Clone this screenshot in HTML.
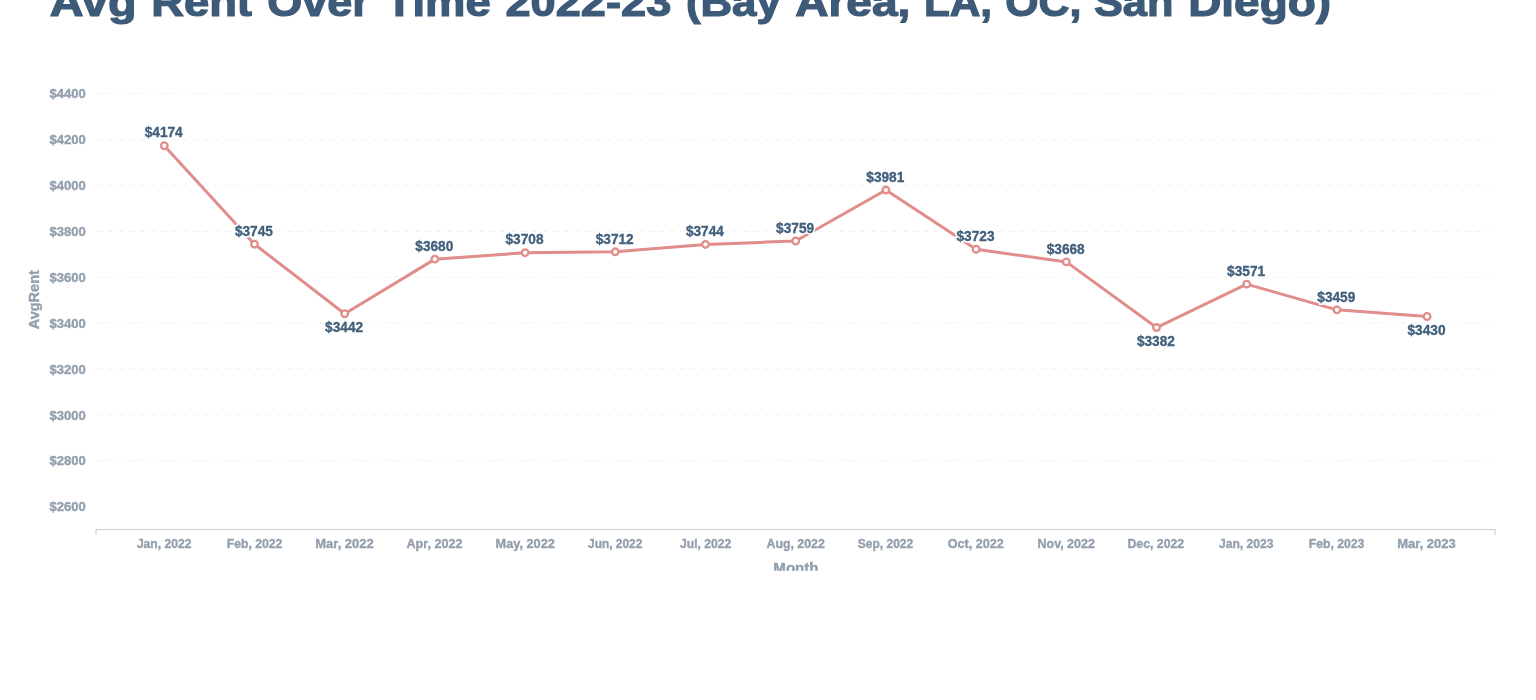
<!DOCTYPE html><html><head><meta charset="utf-8"><style>html,body{margin:0;padding:0;background:#fff;width:1536px;height:700px;overflow:hidden}svg{display:block;filter:blur(0.35px)}text{font-family:"Liberation Sans",sans-serif;font-weight:bold}</style></head><body>
<svg width="1536" height="700" viewBox="0 0 1536 700">
<text x="49.80" y="16.3" font-size="40" fill="#3d5b79" stroke="#3d5b79" stroke-width="1.2" textLength="86.68" lengthAdjust="spacingAndGlyphs">Avg</text>
<text x="151.17" y="16.3" font-size="40" fill="#3d5b79" stroke="#3d5b79" stroke-width="1.2" textLength="100.78" lengthAdjust="spacingAndGlyphs">Rent</text>
<text x="267.30" y="16.3" font-size="40" fill="#3d5b79" stroke="#3d5b79" stroke-width="1.2" textLength="102.47" lengthAdjust="spacingAndGlyphs">Over</text>
<text x="385.63" y="16.3" font-size="40" fill="#3d5b79" stroke="#3d5b79" stroke-width="1.2" textLength="105.06" lengthAdjust="spacingAndGlyphs">Time</text>
<text x="505.50" y="16.3" font-size="40" fill="#3d5b79" stroke="#3d5b79" stroke-width="1.2" textLength="165.77" lengthAdjust="spacingAndGlyphs">2022-23</text>
<text x="685.91" y="16.3" font-size="40" fill="#3d5b79" stroke="#3d5b79" stroke-width="1.2" textLength="94.88" lengthAdjust="spacingAndGlyphs">(Bay</text>
<text x="795.20" y="16.3" font-size="40" fill="#3d5b79" stroke="#3d5b79" stroke-width="1.2" textLength="115.12" lengthAdjust="spacingAndGlyphs">Area,</text>
<text x="923.94" y="16.3" font-size="40" fill="#3d5b79" stroke="#3d5b79" stroke-width="1.2" textLength="68.18" lengthAdjust="spacingAndGlyphs">LA,</text>
<text x="1005.20" y="16.3" font-size="40" fill="#3d5b79" stroke="#3d5b79" stroke-width="1.2" textLength="76.10" lengthAdjust="spacingAndGlyphs">OC,</text>
<text x="1094.00" y="16.3" font-size="40" fill="#3d5b79" stroke="#3d5b79" stroke-width="1.2" textLength="79.39" lengthAdjust="spacingAndGlyphs">San</text>
<text x="1188.15" y="16.3" font-size="40" fill="#3d5b79" stroke="#3d5b79" stroke-width="1.2" textLength="142.95" lengthAdjust="spacingAndGlyphs">Diego)</text>
<text x="49.40" y="511.30" font-size="13.5" fill="#939fad" stroke="#939fad" stroke-width="0.4" textLength="36.26" lengthAdjust="spacingAndGlyphs">$2600</text>
<line x1="97" y1="460.80" x2="1490" y2="460.80" stroke="#f0f1f4" stroke-width="1" stroke-dasharray="5.3,5.3"/>
<text x="49.40" y="465.40" font-size="13.5" fill="#939fad" stroke="#939fad" stroke-width="0.4" textLength="36.26" lengthAdjust="spacingAndGlyphs">$2800</text>
<line x1="97" y1="414.90" x2="1490" y2="414.90" stroke="#f0f1f4" stroke-width="1" stroke-dasharray="5.3,5.3"/>
<text x="49.40" y="419.50" font-size="13.5" fill="#939fad" stroke="#939fad" stroke-width="0.4" textLength="36.26" lengthAdjust="spacingAndGlyphs">$3000</text>
<line x1="97" y1="369.00" x2="1490" y2="369.00" stroke="#f0f1f4" stroke-width="1" stroke-dasharray="5.3,5.3"/>
<text x="49.40" y="373.60" font-size="13.5" fill="#939fad" stroke="#939fad" stroke-width="0.4" textLength="36.26" lengthAdjust="spacingAndGlyphs">$3200</text>
<line x1="97" y1="323.10" x2="1490" y2="323.10" stroke="#f0f1f4" stroke-width="1" stroke-dasharray="5.3,5.3"/>
<text x="49.40" y="327.70" font-size="13.5" fill="#939fad" stroke="#939fad" stroke-width="0.4" textLength="36.26" lengthAdjust="spacingAndGlyphs">$3400</text>
<line x1="97" y1="277.20" x2="1490" y2="277.20" stroke="#f0f1f4" stroke-width="1" stroke-dasharray="5.3,5.3"/>
<text x="49.40" y="281.80" font-size="13.5" fill="#939fad" stroke="#939fad" stroke-width="0.4" textLength="36.26" lengthAdjust="spacingAndGlyphs">$3600</text>
<line x1="97" y1="231.30" x2="1490" y2="231.30" stroke="#f0f1f4" stroke-width="1" stroke-dasharray="5.3,5.3"/>
<text x="49.40" y="235.90" font-size="13.5" fill="#939fad" stroke="#939fad" stroke-width="0.4" textLength="36.26" lengthAdjust="spacingAndGlyphs">$3800</text>
<line x1="97" y1="185.40" x2="1490" y2="185.40" stroke="#f0f1f4" stroke-width="1" stroke-dasharray="5.3,5.3"/>
<text x="49.40" y="190.00" font-size="13.5" fill="#939fad" stroke="#939fad" stroke-width="0.4" textLength="36.26" lengthAdjust="spacingAndGlyphs">$4000</text>
<line x1="97" y1="139.50" x2="1490" y2="139.50" stroke="#f0f1f4" stroke-width="1" stroke-dasharray="5.3,5.3"/>
<text x="49.40" y="144.10" font-size="13.5" fill="#939fad" stroke="#939fad" stroke-width="0.4" textLength="36.26" lengthAdjust="spacingAndGlyphs">$4200</text>
<line x1="97" y1="93.60" x2="1490" y2="93.60" stroke="#f0f1f4" stroke-width="1" stroke-dasharray="5.3,5.3"/>
<text x="49.40" y="98.20" font-size="13.5" fill="#939fad" stroke="#939fad" stroke-width="0.4" textLength="36.26" lengthAdjust="spacingAndGlyphs">$4400</text>
<path d="M96 535V529.5H1495V535" fill="none" stroke="#c9ced6" stroke-width="1.1"/>
<text x="136.90" y="548.4" font-size="13.5" fill="#939fad" stroke="#939fad" stroke-width="0.4" textLength="54.52" lengthAdjust="spacingAndGlyphs">Jan, 2022</text>
<text x="226.80" y="548.4" font-size="13.5" fill="#939fad" stroke="#939fad" stroke-width="0.4" textLength="55.59" lengthAdjust="spacingAndGlyphs">Feb, 2022</text>
<text x="315.30" y="548.4" font-size="13.5" fill="#939fad" stroke="#939fad" stroke-width="0.4" textLength="58.40" lengthAdjust="spacingAndGlyphs">Mar, 2022</text>
<text x="406.50" y="548.4" font-size="13.5" fill="#939fad" stroke="#939fad" stroke-width="0.4" textLength="55.94" lengthAdjust="spacingAndGlyphs">Apr, 2022</text>
<text x="495.60" y="548.4" font-size="13.5" fill="#939fad" stroke="#939fad" stroke-width="0.4" textLength="59.21" lengthAdjust="spacingAndGlyphs">May, 2022</text>
<text x="588.00" y="548.4" font-size="13.5" fill="#939fad" stroke="#939fad" stroke-width="0.4" textLength="54.40" lengthAdjust="spacingAndGlyphs">Jun, 2022</text>
<text x="680.00" y="548.4" font-size="13.5" fill="#939fad" stroke="#939fad" stroke-width="0.4" textLength="51.34" lengthAdjust="spacingAndGlyphs">Jul, 2022</text>
<text x="766.50" y="548.4" font-size="13.5" fill="#939fad" stroke="#939fad" stroke-width="0.4" textLength="58.30" lengthAdjust="spacingAndGlyphs">Aug, 2022</text>
<text x="857.80" y="548.4" font-size="13.5" fill="#939fad" stroke="#939fad" stroke-width="0.4" textLength="55.38" lengthAdjust="spacingAndGlyphs">Sep, 2022</text>
<text x="947.70" y="548.4" font-size="13.5" fill="#939fad" stroke="#939fad" stroke-width="0.4" textLength="55.94" lengthAdjust="spacingAndGlyphs">Oct, 2022</text>
<text x="1037.50" y="548.4" font-size="13.5" fill="#939fad" stroke="#939fad" stroke-width="0.4" textLength="57.34" lengthAdjust="spacingAndGlyphs">Nov, 2022</text>
<text x="1127.50" y="548.4" font-size="13.5" fill="#939fad" stroke="#939fad" stroke-width="0.4" textLength="56.67" lengthAdjust="spacingAndGlyphs">Dec, 2022</text>
<text x="1219.00" y="548.4" font-size="13.5" fill="#939fad" stroke="#939fad" stroke-width="0.4" textLength="54.42" lengthAdjust="spacingAndGlyphs">Jan, 2023</text>
<text x="1308.80" y="548.4" font-size="13.5" fill="#939fad" stroke="#939fad" stroke-width="0.4" textLength="55.59" lengthAdjust="spacingAndGlyphs">Feb, 2023</text>
<text x="1397.30" y="548.4" font-size="13.5" fill="#939fad" stroke="#939fad" stroke-width="0.4" textLength="58.40" lengthAdjust="spacingAndGlyphs">Mar, 2023</text>
<text x="773.30" y="573.2" font-size="14.5" fill="#939fad" stroke="#939fad" stroke-width="0.4" textLength="45.30" lengthAdjust="spacingAndGlyphs">Month</text>
<rect x="0" y="570.8" width="1536" height="130" fill="#fff"/>
<text transform="translate(39.4,299.7) rotate(-90)" font-size="14.5" fill="#939fad" stroke="#939fad" stroke-width="0.4" text-anchor="middle">AvgRent</text>
<polyline points="164.30,145.77 254.50,244.22 344.70,313.76 434.90,259.14 525.10,252.71 615.30,251.80 705.50,244.45 795.70,241.01 885.90,190.06 976.10,249.27 1066.30,261.89 1156.50,327.53 1246.70,284.16 1336.90,309.86 1427.10,316.52" fill="none" stroke="#e08d8c" stroke-width="3" stroke-linejoin="round"/>
<circle cx="164.30" cy="145.77" r="3.3" fill="#fff" stroke="#e08d8c" stroke-width="2.3"/>
<circle cx="254.50" cy="244.22" r="3.3" fill="#fff" stroke="#e08d8c" stroke-width="2.3"/>
<circle cx="344.70" cy="313.76" r="3.3" fill="#fff" stroke="#e08d8c" stroke-width="2.3"/>
<circle cx="434.90" cy="259.14" r="3.3" fill="#fff" stroke="#e08d8c" stroke-width="2.3"/>
<circle cx="525.10" cy="252.71" r="3.3" fill="#fff" stroke="#e08d8c" stroke-width="2.3"/>
<circle cx="615.30" cy="251.80" r="3.3" fill="#fff" stroke="#e08d8c" stroke-width="2.3"/>
<circle cx="705.50" cy="244.45" r="3.3" fill="#fff" stroke="#e08d8c" stroke-width="2.3"/>
<circle cx="795.70" cy="241.01" r="3.3" fill="#fff" stroke="#e08d8c" stroke-width="2.3"/>
<circle cx="885.90" cy="190.06" r="3.3" fill="#fff" stroke="#e08d8c" stroke-width="2.3"/>
<circle cx="976.10" cy="249.27" r="3.3" fill="#fff" stroke="#e08d8c" stroke-width="2.3"/>
<circle cx="1066.30" cy="261.89" r="3.3" fill="#fff" stroke="#e08d8c" stroke-width="2.3"/>
<circle cx="1156.50" cy="327.53" r="3.3" fill="#fff" stroke="#e08d8c" stroke-width="2.3"/>
<circle cx="1246.70" cy="284.16" r="3.3" fill="#fff" stroke="#e08d8c" stroke-width="2.3"/>
<circle cx="1336.90" cy="309.86" r="3.3" fill="#fff" stroke="#e08d8c" stroke-width="2.3"/>
<circle cx="1427.10" cy="316.52" r="3.3" fill="#fff" stroke="#e08d8c" stroke-width="2.3"/>
<text x="144.70" y="137.47" font-size="13.8" fill="#fff" stroke="#fff" stroke-width="3.5" textLength="37.98" lengthAdjust="spacingAndGlyphs">$4174</text>
<text x="144.70" y="137.47" font-size="13.8" fill="#42607d" stroke="#42607d" stroke-width="0.35" textLength="37.98" lengthAdjust="spacingAndGlyphs">$4174</text>
<text x="234.90" y="235.92" font-size="13.8" fill="#fff" stroke="#fff" stroke-width="3.5" textLength="37.98" lengthAdjust="spacingAndGlyphs">$3745</text>
<text x="234.90" y="235.92" font-size="13.8" fill="#42607d" stroke="#42607d" stroke-width="0.35" textLength="37.98" lengthAdjust="spacingAndGlyphs">$3745</text>
<text x="325.10" y="332.16" font-size="13.8" fill="#fff" stroke="#fff" stroke-width="3.5" textLength="37.98" lengthAdjust="spacingAndGlyphs">$3442</text>
<text x="325.10" y="332.16" font-size="13.8" fill="#42607d" stroke="#42607d" stroke-width="0.35" textLength="37.98" lengthAdjust="spacingAndGlyphs">$3442</text>
<text x="415.30" y="250.84" font-size="13.8" fill="#fff" stroke="#fff" stroke-width="3.5" textLength="37.98" lengthAdjust="spacingAndGlyphs">$3680</text>
<text x="415.30" y="250.84" font-size="13.8" fill="#42607d" stroke="#42607d" stroke-width="0.35" textLength="37.98" lengthAdjust="spacingAndGlyphs">$3680</text>
<text x="505.50" y="244.41" font-size="13.8" fill="#fff" stroke="#fff" stroke-width="3.5" textLength="37.98" lengthAdjust="spacingAndGlyphs">$3708</text>
<text x="505.50" y="244.41" font-size="13.8" fill="#42607d" stroke="#42607d" stroke-width="0.35" textLength="37.98" lengthAdjust="spacingAndGlyphs">$3708</text>
<text x="595.70" y="243.50" font-size="13.8" fill="#fff" stroke="#fff" stroke-width="3.5" textLength="37.98" lengthAdjust="spacingAndGlyphs">$3712</text>
<text x="595.70" y="243.50" font-size="13.8" fill="#42607d" stroke="#42607d" stroke-width="0.35" textLength="37.98" lengthAdjust="spacingAndGlyphs">$3712</text>
<text x="685.90" y="236.15" font-size="13.8" fill="#fff" stroke="#fff" stroke-width="3.5" textLength="37.98" lengthAdjust="spacingAndGlyphs">$3744</text>
<text x="685.90" y="236.15" font-size="13.8" fill="#42607d" stroke="#42607d" stroke-width="0.35" textLength="37.98" lengthAdjust="spacingAndGlyphs">$3744</text>
<text x="776.10" y="232.71" font-size="13.8" fill="#fff" stroke="#fff" stroke-width="3.5" textLength="37.98" lengthAdjust="spacingAndGlyphs">$3759</text>
<text x="776.10" y="232.71" font-size="13.8" fill="#42607d" stroke="#42607d" stroke-width="0.35" textLength="37.98" lengthAdjust="spacingAndGlyphs">$3759</text>
<text x="866.30" y="181.76" font-size="13.8" fill="#fff" stroke="#fff" stroke-width="3.5" textLength="37.98" lengthAdjust="spacingAndGlyphs">$3981</text>
<text x="866.30" y="181.76" font-size="13.8" fill="#42607d" stroke="#42607d" stroke-width="0.35" textLength="37.98" lengthAdjust="spacingAndGlyphs">$3981</text>
<text x="956.50" y="240.97" font-size="13.8" fill="#fff" stroke="#fff" stroke-width="3.5" textLength="37.98" lengthAdjust="spacingAndGlyphs">$3723</text>
<text x="956.50" y="240.97" font-size="13.8" fill="#42607d" stroke="#42607d" stroke-width="0.35" textLength="37.98" lengthAdjust="spacingAndGlyphs">$3723</text>
<text x="1046.70" y="253.59" font-size="13.8" fill="#fff" stroke="#fff" stroke-width="3.5" textLength="37.98" lengthAdjust="spacingAndGlyphs">$3668</text>
<text x="1046.70" y="253.59" font-size="13.8" fill="#42607d" stroke="#42607d" stroke-width="0.35" textLength="37.98" lengthAdjust="spacingAndGlyphs">$3668</text>
<text x="1136.90" y="345.93" font-size="13.8" fill="#fff" stroke="#fff" stroke-width="3.5" textLength="37.98" lengthAdjust="spacingAndGlyphs">$3382</text>
<text x="1136.90" y="345.93" font-size="13.8" fill="#42607d" stroke="#42607d" stroke-width="0.35" textLength="37.98" lengthAdjust="spacingAndGlyphs">$3382</text>
<text x="1227.10" y="275.86" font-size="13.8" fill="#fff" stroke="#fff" stroke-width="3.5" textLength="37.98" lengthAdjust="spacingAndGlyphs">$3571</text>
<text x="1227.10" y="275.86" font-size="13.8" fill="#42607d" stroke="#42607d" stroke-width="0.35" textLength="37.98" lengthAdjust="spacingAndGlyphs">$3571</text>
<text x="1317.30" y="301.56" font-size="13.8" fill="#fff" stroke="#fff" stroke-width="3.5" textLength="37.98" lengthAdjust="spacingAndGlyphs">$3459</text>
<text x="1317.30" y="301.56" font-size="13.8" fill="#42607d" stroke="#42607d" stroke-width="0.35" textLength="37.98" lengthAdjust="spacingAndGlyphs">$3459</text>
<text x="1407.50" y="334.92" font-size="13.8" fill="#fff" stroke="#fff" stroke-width="3.5" textLength="37.98" lengthAdjust="spacingAndGlyphs">$3430</text>
<text x="1407.50" y="334.92" font-size="13.8" fill="#42607d" stroke="#42607d" stroke-width="0.35" textLength="37.98" lengthAdjust="spacingAndGlyphs">$3430</text>
</svg></body></html>
